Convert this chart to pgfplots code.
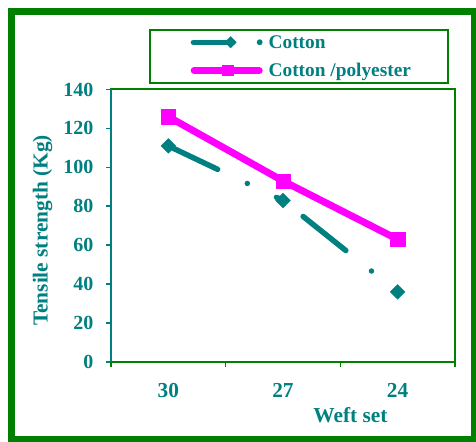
\documentclass[border=0pt]{standalone}
\usepackage{fontspec}
\setmainfont{Liberation Serif}
\usepackage{pgfplots}
\pgfplotsset{compat=1.18}
\definecolor{tealc}{HTML}{008080}
\definecolor{frameg}{HTML}{008000}
\definecolor{magc}{HTML}{FF00FF}
\begin{document}
\begin{tikzpicture}
\useasboundingbox (0,0) rectangle (357pt,331.5pt);
\fill[white] (0,0) rectangle (357pt,331.5pt);
\draw[frameg, line width=5.25pt] (8.625pt,1.5pt) rectangle (355.5pt,322.875pt);
\begin{axis}[
  at={(83.25pt,60pt)}, anchor=south west,
  scale only axis, width=258pt, height=204.4pt,
  xmin=-0.5, xmax=2.5, ymin=0, ymax=140,
  xtick={-0.5,0.5,1.5,2.5}, xticklabels={},
  extra x ticks={0,1,2}, extra x tick labels={30,27,24},
  extra x tick style={major tick length=0pt, tick label style={anchor=base, yshift=-26.5pt}},
  ytick={0,20,...,140},
  tick pos=left,
  tick align=outside, major tick length=3.75pt,
  xtick style={frameg, line width=1.2pt},
  ytick style={tealc, line width=1.2pt},
  axis line style={frameg, line width=1.5pt},
  /pgf/number format/assume math mode=true,
  tick label style={font=\fontsize{15}{18}\selectfont\bfseries, text=tealc},
  xticklabel style={font=\fontsize{16}{19}\selectfont\bfseries},
  yticklabel style={xshift=-6pt},
  xlabel={Weft set}, ylabel={Tensile strength (Kg)},
  xlabel style={at={(rel axis cs:0.696,0)}, anchor=base, yshift=-45.2pt, font=\fontsize{16}{19}\selectfont\bfseries, text=tealc},
  ylabel style={at={(rel axis cs:0,0.4826)}, anchor=center, yshift=51.4pt, font=\fontsize{16}{19}\selectfont\bfseries, text=tealc},
  legend cell align=left,
  legend style={at={(rel axis cs:0.1105,1.222)}, anchor=north west, draw=frameg, line width=1.5pt,
    inner xsep=27.5pt, inner ysep=2pt, row sep=6.8pt,
    font=\fontsize{14.5}{17}\selectfont\bfseries, text=tealc,
    nodes={inner sep=0pt, text height=12pt, text depth=2.4pt}},
  clip=false,
]
\addplot[forget plot, tealc, line width=4.1pt, line cap=round, mark=none,
  dash pattern=on 41pt off 24.6pt on 0pt off 24.2pt] coordinates {(0,111) (1,83)};
\addplot[forget plot, tealc, line width=4.1pt, line cap=round, mark=none,
  dash pattern=on 41pt off 24.6pt on 0pt off 24.2pt, dash phase=70.5pt] coordinates {(1,83) (2,36)};
\addplot[tealc, only marks, mark=square*, mark size=3.9pt, mark options={rotate=45, tealc, line width=0.3pt},
  legend image code/.code={
    \draw[tealc, line width=4pt, line cap=round, solid] (2pt,0pt) -- (31.75pt,0pt);
    \fill[tealc, draw=none] (30pt,4.5pt) -- (34.5pt,0pt) -- (30pt,-4.5pt) -- (25.5pt,0pt) -- cycle;
    \fill[tealc, draw=none] (51.75pt,0pt) circle (2.2pt);
    \path[draw=none, fill=none] (-3pt,-5pt) rectangle (58.5pt,5pt);
  }] coordinates {(0,111) (1,83) (2,36)};
\addlegendentry{Cotton}
\addplot[magc, line width=5.25pt, line cap=round, line join=round, mark=square*, mark size=5.4pt,
  mark options={solid, magc, line width=0.3pt},
  legend image code/.code={
    \draw[magc, line width=5pt, line cap=round, solid, fill=none] (2.5pt,0pt) -- (51.5pt,0pt);
    \fill[magc, draw=none] (23.25pt,-4.2pt) rectangle (32.25pt,4.2pt);
    \path[draw=none, fill=none] (-3pt,-5pt) rectangle (58.5pt,5pt);
  }] coordinates {(0,126) (1,93) (2,63)};
\addlegendentry{Cotton /polyester}
\draw[tealc, line width=1.5pt] (rel axis cs:0,0) -- (rel axis cs:0,1);
\end{axis}
\end{tikzpicture}
\end{document}
